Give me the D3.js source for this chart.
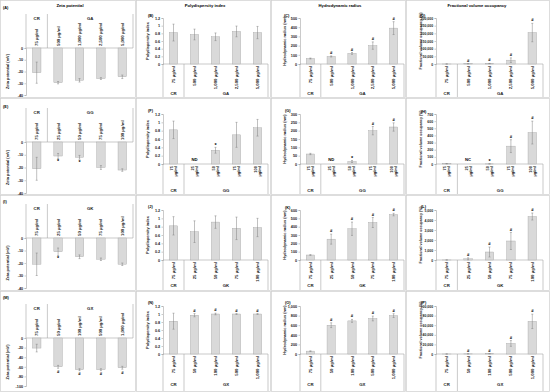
<!DOCTYPE html>
<html><head><meta charset="utf-8">
<script src="https://cdn.jsdelivr.net/npm/d3@7"></script>
<style>body{margin:0;background:#fff}svg{display:block}text{font-family:"Liberation Sans",Arial,sans-serif}</style>
</head><body><svg id="c" width="550" height="392"></svg>
<script>
// ---------------- DATA ----------------
const metricTitles = ["Zeta potential", "Polydispersity index", "Hydrodynamic radius", "Fractional volume occupancy"];
const yTitles = ["Zeta potential (mV)", "Polydispersity index", "Hydrodynamic radius (nm)", "Fractional volume occupancy (%)"];
const panelLetters = [["(A)","(B)","(C)","(D)"],["(E)","(F)","(G)","(H)"],["(I)","(J)","(K)","(L)"],["(M)","(N)","(O)","(P)"]];
const controlName = "CR";
const groupNames = ["GA", "GG", "GK", "GX"];
const doseLabels = [
  ["75 µg/ml", "500 µg/ml", "1,000 µg/ml", "2,500 µg/ml", "5,000 µg/ml"],
  ["75 µg/ml", "25 µg/ml", "50 µg/ml", "75 µg/ml", "100 µg/ml"],
  ["75 µg/ml", "25 µg/ml", "50 µg/ml", "75 µg/ml", "100 µg/ml"],
  ["75 µg/ml", "50 µg/ml", "100 µg/ml", "500 µg/ml", "1,000 µg/ml"]
];

const zetaMean = [[-21, -29.5, -27.5, -26, -24.5], [-21, -11, -12, -20, -22], [-21, -11, -15, -17, -21], [-21, -60, -66, -66, -62]];
const zetaErr  = [[9, 1, 1.5, 0.8, 1.5], [9, 2, 1.5, 1.5, 1], [9, 3, 1.5, 1, 1], [8, 3, 2, 2, 3]];
const zetaMark = [["", "", "", "", ""], ["", "*", "*", "", ""], ["", "*", "", "", ""], ["", "#", "#", "#", "#"]];

const pdiMean = [[0.82, 0.77, 0.71, 0.85, 0.82], [0.82, null, 0.33, 0.70, 0.87], [0.82, 0.68, 0.91, 0.76, 0.78], [0.82, 0.97, 1.0, 1.0, 1.0]];
const pdiErr  = [[0.22, 0.14, 0.10, 0.14, 0.16], [0.21, 0, 0.07, 0.30, 0.20], [0.22, 0.26, 0.15, 0.27, 0.22], [0.20, 0.04, 0.02, 0.01, 0.01]];
const pdiMark = [["", "", "", "", ""], ["", "ND", "*", "", ""], ["", "", "", "", ""], ["", "#", "#", "#", "#"]];

const hydroMean = [[60, 82, 115, 200, 390], [60, null, 15, 200, 222], [60, 250, 375, 450, 545], [60, 600, 690, 740, 800]];
const hydroErr  = [[5, 6, 10, 40, 70], [4, 0, 6, 25, 25], [4, 60, 80, 60, 15], [5, 50, 30, 50, 40]];
const hydroMark = [["", "#", "#", "#", "#"], ["", "ND", "*", "#", "#"], ["", "#", "#", "#", "#"], ["", "#", "#", "#", "#"]];

const fvoMean = [[4, 1500, 3000, 25000, 205000], [4, null, 2, 250, 440], [5, 120, 800, 1900, 4350], [4, 300, 500, 22000, 68000]];
const fvoErr  = [[2, 500, 1000, 15000, 60000], [2, 0, 1, 90, 160], [2, 100, 500, 850, 350], [2, 200, 300, 6000, 15000]];
const fvoMark = [["", "#", "#", "#", "#"], ["", "NC", "*", "#", "#"], ["", "#", "#", "#", "#"], ["", "#", "#", "#", "#"]];

const zetaTicks = [[0, -10, -20, -30, -40], [0, -10, -20, -30, -40], [0, -10, -20, -30, -40], [0, -20, -40, -60, -80, -100]];
const pdiTicks = [[0, 0.2, 0.4, 0.6, 0.8, 1, 1.2], [0, 0.2, 0.4, 0.6, 0.8, 1, 1.2], [0, 0.2, 0.4, 0.6, 0.8, 1, 1.2], [0, 0.2, 0.4, 0.6, 0.8, 1, 1.2]];
const hydroTicks = [[0, 100, 200, 300, 400, 500], [0, 50, 100, 150, 200, 250, 300], [0, 100, 200, 300, 400, 500, 600], [0, 200, 400, 600, 800, 1000]];
const fvoTicks = [[0, 50000, 100000, 150000, 200000, 250000, 300000], [0, 100, 200, 300, 400, 500, 600, 700], [0, 1000, 2000, 3000, 4000, 5000], [0, 20000, 40000, 60000, 80000, 100000]];

// ---------------- LAYOUT ----------------
const svg = d3.select("#c");
const colX = [0, 136, 271, 406, 550];
const rowY = [0, 98, 195, 291, 392];
const plotL = [26, 163, 300, 436];
const plotR = [133, 268, 404, 543];
const yTitleX = [8, 148, 285, 421];
const titleX = [70, 205, 340, 477];
const zetaRows = [[48, 95], [142, 193], [238, 288], [338, 386]];
const posRows = [[18, 64, 95], [114, 164, 192], [210, 260, 287], [306, 354, 386]];
const letterPos = [[[3, 7], [148, 15], [284, 15], [420, 15]], [[3, 106], [148, 110], [285, 110], [421, 111]],
                   [[3, 201], [148, 206], [285, 207], [421, 206]], [[3, 297], [148, 302], [285, 302], [421, 302]]];

const axisCol = "#a6a6a6", textCol = "#1a1a1a", barFill = "#d9d9d9", barStroke = "#a6a6a6", errCol = "#808080";
const fmtNum = v => d3.format(",")(v).replace("−", "-");

for (let r = 0; r < 4; r++) for (let c = 0; c < 4; c++) {
  svg.append("rect").attr("x", colX[c] + 0.5).attr("y", rowY[r] + 0.5)
    .attr("width", colX[c + 1] - colX[c] - 1).attr("height", rowY[r + 1] - rowY[r] - 1)
    .attr("fill", "none").attr("stroke", "#cfcfcf").attr("stroke-width", 0.7);
}

metricTitles.forEach((t, c) => svg.append("text").attr("x", titleX[c]).attr("y", 6.5)
  .attr("text-anchor", "middle").attr("font-size", 4.2).attr("font-weight", "bold").attr("fill", "#000").text(t));

const datasets = [
  {mean: zetaMean, err: zetaErr, mark: zetaMark, ticks: zetaTicks},
  {mean: pdiMean, err: pdiErr, mark: pdiMark, ticks: pdiTicks},
  {mean: hydroMean, err: hydroErr, mark: hydroMark, ticks: hydroTicks},
  {mean: fvoMean, err: fvoErr, mark: fvoMark, ticks: fvoTicks}
];

function drawPanel(r, c) {
  const ds = datasets[c];
  const g = svg.append("g");
  const cats = doseLabels[r].map((d, i) => i);
  const x = d3.scaleBand().domain(cats).range([plotL[c], plotR[c]]).paddingInner(0.6).paddingOuter(0.3);
  const step = x.step();
  const ticks = ds.ticks[r];
  const neg = c === 0;
  const panelBottom = rowY[r + 1];
  const y = neg
    ? d3.scaleLinear().domain([0, d3.min(ticks)]).range(zetaRows[r])
    : d3.scaleLinear().domain([0, d3.max(ticks)]).range([posRows[r][1], posRows[r][0]]);
  const zero = y(0);

  const ax = g.append("g").attr("transform", `translate(${plotL[c]},0)`)
    .call(d3.axisLeft(y).tickValues(ticks).tickSize(1.5).tickPadding(1.3).tickFormat(fmtNum));
  ax.select(".domain").attr("stroke", axisCol).attr("stroke-width", 0.6);
  ax.selectAll(".tick line").attr("stroke", axisCol).attr("stroke-width", 0.6);
  ax.selectAll(".tick text").attr("font-size", c === 3 ? 3.5 : 3.8).attr("font-weight", "bold").attr("fill", textCol)
    .attr("font-family", "Liberation Sans, Arial, sans-serif");

  g.append("line").attr("x1", x.range()[0]).attr("x2", x.range()[1]).attr("y1", zero).attr("y2", zero)
    .attr("stroke", axisCol).attr("stroke-width", 0.6);

  const sepXs = [x.range()[0], x.range()[0] + step, x.range()[1]];
  let sy1, sy2, gy;
  if (neg) { sy1 = zero; sy2 = zero - 34; gy = zero - 28; }
  else { sy1 = zero; sy2 = panelBottom - 1; gy = posRows[r][2]; }
  sepXs.forEach(sx => g.append("line").attr("x1", sx).attr("x2", sx).attr("y1", sy1).attr("y2", sy2)
    .attr("stroke", axisCol).attr("stroke-width", 0.6));
  g.append("text").attr("x", (sepXs[0] + sepXs[1]) / 2).attr("y", gy).attr("text-anchor", "middle")
    .attr("font-size", 4.3).attr("font-weight", "bold").attr("fill", textCol).text(controlName);
  g.append("text").attr("x", (sepXs[1] + sepXs[2]) / 2).attr("y", gy).attr("text-anchor", "middle")
    .attr("font-size", 4.3).attr("font-weight", "bold").attr("fill", textCol).text(groupNames[r]);

  cats.forEach(i => {
    const cx = x(i) + x.bandwidth() / 2;
    const lab = doseLabels[r][i];
    if (neg) {
      g.append("text").attr("transform", `translate(${cx + 1.5},${zero - 2}) rotate(-90)`)
        .attr("text-anchor", "start").attr("font-size", 4.3).attr("font-weight", "bold").attr("fill", textCol).text(lab);
    } else if (r === 1) {
      const parts = lab.split(" ");
      const t = g.append("text").attr("transform", `translate(${cx - 0.6},${zero + 2}) rotate(-90)`)
        .attr("text-anchor", "end").attr("font-size", 4).attr("font-weight", "bold").attr("fill", textCol);
      t.append("tspan").attr("x", 0).attr("dy", 0).text(parts[0]);
      t.append("tspan").attr("x", 0).attr("dy", 4).text(parts[1]);
    } else {
      g.append("text").attr("transform", `translate(${cx + 1.5},${zero + 2}) rotate(-90)`)
        .attr("text-anchor", "end").attr("font-size", 4.3).attr("font-weight", "bold").attr("fill", textCol).text(lab);
    }
  });

  cats.forEach(i => {
    const v = ds.mean[r][i], e = ds.err[r][i], m = ds.mark[r][i];
    const bx = x(i), bw = x.bandwidth(), cx = bx + bw / 2;
    if (v === null) {
      g.append("text").attr("x", cx).attr("y", zero - 3).attr("text-anchor", "middle")
        .attr("font-size", 4.2).attr("font-weight", "bold").attr("fill", "#000").text(m);
      return;
    }
    const y0 = Math.min(y(0), y(v)), h = Math.abs(y(v) - y(0));
    g.append("rect").attr("x", bx).attr("y", y0).attr("width", bw).attr("height", h)
      .attr("fill", barFill).attr("stroke", barStroke).attr("stroke-width", 0.4);
    const ya = y(v - e), yb = y(v + e);
    g.append("line").attr("x1", cx).attr("x2", cx).attr("y1", ya).attr("y2", yb).attr("stroke", errCol).attr("stroke-width", 0.5);
    [ya, yb].forEach(yy => g.append("line").attr("x1", cx - 1).attr("x2", cx + 1).attr("y1", yy).attr("y2", yy)
      .attr("stroke", errCol).attr("stroke-width", 0.5));
    if (m) {
      const my = neg ? Math.max(ya, yb) + 4.5 : Math.min(ya, yb) - (m === "*" ? 0.5 : 2);
      g.append("text").attr("x", cx).attr("y", my).attr("text-anchor", "middle")
        .attr("font-size", m === "*" ? 5.5 : 4.2).attr("font-weight", "bold").attr("fill", "#000").text(m);
    }
  });

  const [ty1, ty2] = y.range();
  g.append("text").attr("transform", `translate(${yTitleX[c]},${(ty1 + ty2) / 2}) rotate(-90)`)
    .attr("text-anchor", "middle").attr("dominant-baseline", "middle").attr("font-size", c === 3 ? 3.6 : 3.9).attr("font-weight", "bold")
    .attr("fill", textCol).text(yTitles[c]);

  g.append("text").attr("x", letterPos[r][c][0]).attr("y", letterPos[r][c][1] + 1.5)
    .attr("font-size", 3.9).attr("font-weight", "bold").attr("fill", "#000").text(panelLetters[r][c]);
}

for (let r = 0; r < 4; r++) for (let c = 0; c < 4; c++) drawPanel(r, c);
</script></body></html>
